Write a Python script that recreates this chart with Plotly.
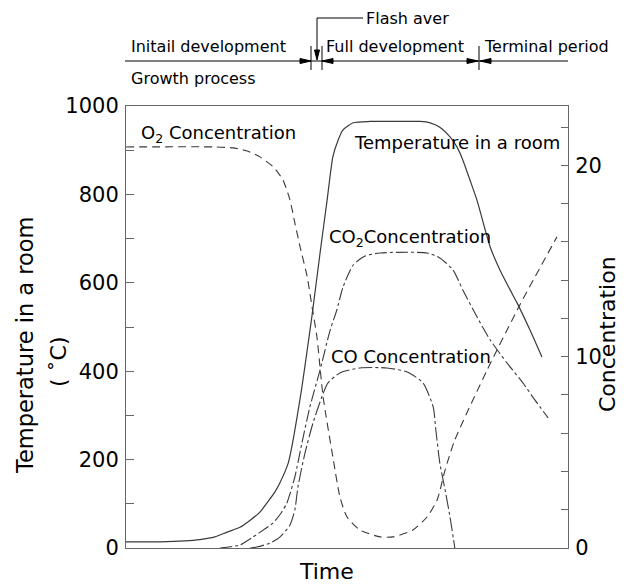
import plotly.graph_objects as go

# ---------------- data (time in arbitrary units 0..100) ----------------
temp_time = [0, 7.7, 13.3, 16.7, 20.1, 22.9, 25.8, 28.1, 30.3, 31.9, 33.7, 34.8, 36.7, 37.8,
             38.7, 39.8, 41.0, 42.1, 43.9, 45.5, 46.8, 48.0, 49.1, 51.4, 55.2, 62.0, 66.5,
             68.8, 71.0, 73.3, 74.9, 76.2, 77.8, 79.4, 82.4, 84.6, 86.9, 88.5, 91.4, 94.1]
temperature = [14, 14, 16, 19, 25, 36, 47, 63, 81, 102, 127, 147, 192, 244,
               296, 364, 448, 527, 667, 787, 885, 923, 946, 962, 965, 965, 965,
               962, 952, 930, 907, 878, 833, 787, 681, 629, 584, 554, 493, 432]

o2_time = [0, 20.1, 24.2, 27.4, 30.3, 33.3, 35.5, 37.1, 38.2, 39.4, 41.0, 42.1, 43.2,
           44.6, 46.8, 48.4, 50.0, 52.9, 57.5, 60.4, 64.9, 68.1, 70.4, 72.2, 74.4,
           81.7, 89.1, 97.5]
o2 = [20.96, 20.96, 20.91, 20.75, 20.44, 19.92, 19.24, 18.19, 16.99, 15.73, 14.17, 12.6, 11.03,
      7.89, 4.76, 2.67, 1.62, 0.94, 0.58, 0.58, 0.94, 1.62, 2.51, 4.08, 5.65,
      9.3, 12.7, 16.26]

co2_time = [21.3, 25.8, 28.7, 31.4, 33.3, 35.1, 36.4, 38.2, 39.8, 41.6, 43.9, 46.2, 47.7,
            49.1, 51.4, 54.1, 57.5, 68.1, 71.0, 74.0, 76.2, 79.4, 82.4, 86.2, 89.8,
            92.5, 95.5]
co2 = [0.0, 0.16, 0.57, 0.99, 1.31, 1.83, 2.35, 3.71, 5.49, 7.37, 9.3, 11.4, 12.44,
       13.64, 14.79, 15.26, 15.42, 15.42, 15.16, 14.53, 13.49, 12.08, 10.87, 9.67, 8.63,
       7.74, 6.8]

co_time = [28.1, 29.6, 32.6, 34.8, 37.1, 38.2, 38.9, 40.5, 42.3, 44.3, 45.7, 48.4, 52.9,
           59.0, 63.6, 67.2, 69.5, 70.1, 71.0, 72.2, 73.3, 74.4]
co = [0.0, 0.05, 0.26, 0.57, 1.2, 1.99, 3.19, 4.97, 6.53, 7.89, 8.63, 9.15, 9.41,
      9.41, 9.2, 8.63, 7.37, 6.17, 4.44, 3.03, 1.62, 0.0]

left_ticks = [0, 200, 400, 600, 800, 1000]
right_ticks = [0, 10, 20]

# ---------------- layout helpers (pixel -> paper) ----------------
W, H = 630, 584
L, R, T, B = 126, 568, 106, 548


def fx(px):
    return (px - L) / (R - L)


def fy(py):
    return (B - py) / (B - T)


FONT = "DejaVu Sans"
LINE = "#3a3a3a"

fig = go.Figure()
fig.add_trace(go.Scatter(x=temp_time, y=temperature, mode="lines", yaxis="y",
                         line=dict(color=LINE, width=1.2, shape="spline", smoothing=0.6)))
fig.add_trace(go.Scatter(x=o2_time, y=o2, mode="lines", yaxis="y2",
                         line=dict(color=LINE, width=1.1, dash="8px,5px", shape="spline", smoothing=0.6)))
fig.add_trace(go.Scatter(x=co2_time, y=co2, mode="lines", yaxis="y2",
                         line=dict(color=LINE, width=1.1, dash="12px,3px,3px,3px", shape="spline", smoothing=0.6)))
fig.add_trace(go.Scatter(x=co_time, y=co, mode="lines", yaxis="y2",
                         line=dict(color=LINE, width=1.1, dash="14px,3px,3px,3px", shape="spline", smoothing=0.6)))

shapes = []


def seg(x0, y0, x1, y1, w=1):
    shapes.append(dict(type="line", xref="paper", yref="paper", x0=fx(x0), y0=fy(y0),
                       x1=fx(x1), y1=fy(y1), line=dict(color="black", width=w)))


def tri(pts):
    p = "M " + " L ".join(f"{fx(a)},{fy(b)}" for a, b in pts) + " Z"
    shapes.append(dict(type="path", xref="paper", yref="paper", path=p,
                       fillcolor="black", line=dict(color="black", width=1)))


# header timeline
seg(125, 61, 568, 61)
for vx in (311, 322, 479):
    seg(vx, 46, vx, 70)
tri([(311, 61), (300, 58.5), (300, 63.5)])
tri([(322, 61), (333, 58.5), (333, 63.5)])
tri([(478, 61), (467, 58.5), (467, 63.5)])
tri([(480, 61), (491, 58.5), (491, 63.5)])
# flash-over leader
seg(317, 18, 363, 18)
seg(317, 18, 317, 52)
tri([(317, 60), (314.5, 50), (319.5, 50)])

ann = []


def text(s, px, py, size, xanchor="left", angle=0):
    ann.append(dict(text=s, x=fx(px), y=fy(py), xref="paper", yref="paper",
                    xanchor=xanchor, yanchor="middle", showarrow=False, textangle=angle,
                    font=dict(family=FONT, size=size, color="black")))


text("Flash aver", 364, 18, 16)
text("Initail development", 129, 46, 16)
text("Full development", 324, 46, 16)
text("Terminal period", 482, 46, 16)
text("Growth process", 129, 78, 16)

text("O<sub>2</sub> Concentration", 139, 134, 18)
text("Temperature in a room", 352, 142, 18)
text("CO<sub>2</sub>Concentration", 327, 238, 18)
text("CO Concentration", 329, 356, 18)

text("Time", 326, 571, 22, xanchor="center")
text("Temperature in a room", 25, 345, 22.5, xanchor="center", angle=-90)
text("( ˚C)", 58, 362, 22, xanchor="center", angle=-90)
text("Concentration", 607, 334, 22, xanchor="center", angle=-90)

axis_col = "#666666"
fig.update_layout(
    width=W, height=H, autosize=False,
    margin=dict(l=L, r=W - R, t=T, b=H - B, pad=0),
    paper_bgcolor="white", plot_bgcolor="white",
    showlegend=False,
    font=dict(family=FONT, color="black"),
    xaxis=dict(range=[0, 100], showline=True, linecolor=axis_col, linewidth=1, mirror=True,
               showticklabels=False, ticks="", showgrid=False, zeroline=False, fixedrange=True),
    yaxis=dict(range=[0, 1000], tickvals=left_ticks, ticks="inside", ticklen=8,
               tickcolor=axis_col, tickwidth=1,
               minor=dict(dtick=100, ticks="inside", ticklen=8, tickcolor=axis_col, tickwidth=1,
                          showgrid=False),
               showline=True, linecolor=axis_col, linewidth=1, showgrid=False, zeroline=False,
               tickfont=dict(family=FONT, size=21, color="black"), ticklabelstandoff=2),
    yaxis2=dict(range=[0, 23.1], overlaying="y", side="right", tickvals=right_ticks,
                ticks="inside", ticklen=7, tickcolor=axis_col, tickwidth=1,
                minor=dict(dtick=2, ticks="inside", ticklen=7, tickcolor=axis_col, tickwidth=1,
                           showgrid=False),
                showline=True, linecolor=axis_col, linewidth=1, showgrid=False, zeroline=False,
                tickfont=dict(family=FONT, size=21, color="black"), ticklabelstandoff=2),
    shapes=shapes,
    annotations=ann,
)

fig.write_html("out.html", config=dict(displayModeBar=False))
